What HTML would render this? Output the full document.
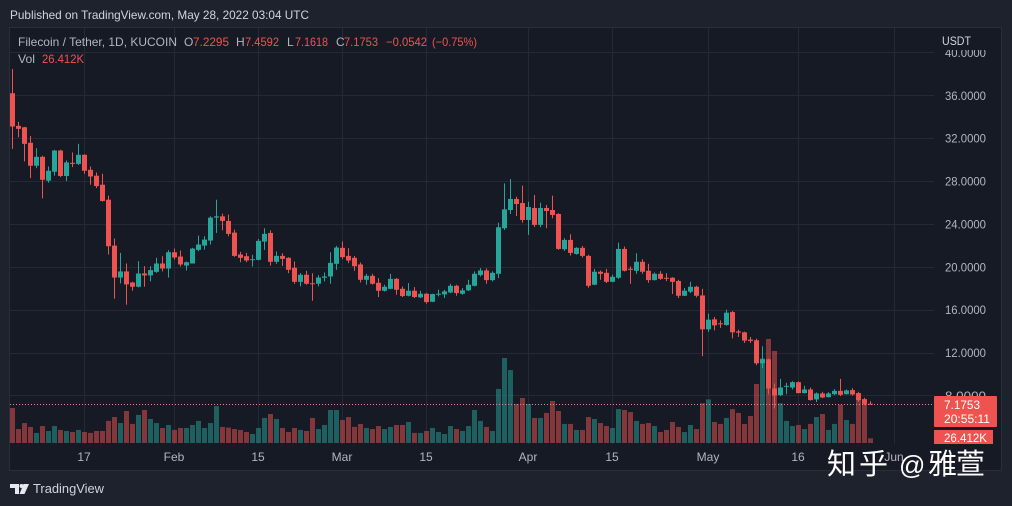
<!DOCTYPE html>
<html lang="en">
<head>
<meta charset="utf-8">
<title>Filecoin / Tether chart</title>
<style>
html,body{margin:0;padding:0;background:#1e222d;width:1012px;height:506px;overflow:hidden}
svg{display:block}
text{font-family:"Liberation Sans","Noto Sans CJK SC",sans-serif;font-size:12px}
</style>
</head>
<body>
<svg id="chart" xmlns="http://www.w3.org/2000/svg" width="1012" height="506" viewBox="0 0 1012 506">
  <rect x="0" y="0" width="1012" height="506" fill="#1e222d"/>
  <text x="10" y="19" fill="#d1d4dc" textLength="299" lengthAdjust="spacingAndGlyphs">Published on TradingView.com, May 28, 2022 03:04 UTC</text>
  <rect x="9.5" y="27.5" width="992" height="443" fill="#161a25" stroke="#2a2e39"/>
  <g id="grid"></g>
  <g id="price-axis"></g>
  <rect x="936" y="29" width="60" height="21" fill="#161a25"/>
  <text x="942" y="45" fill="#d1d4dc" textLength="29" lengthAdjust="spacingAndGlyphs">USDT</text>
  <g id="volumes"></g>
  <g id="candles"></g>
  <line id="last-price-line" x1="10" x2="934" stroke="#e08a8a" stroke-width="1" stroke-dasharray="1 2"/>
  <g>
    <text x="18" y="46" fill="#b2b5be" textLength="159" lengthAdjust="spacingAndGlyphs">Filecoin / Tether, 1D, KUCOIN</text>
    <text x="184" y="46" fill="#b2b5be">O</text>
    <text x="193" y="46" fill="#ef5350" textLength="36" lengthAdjust="spacingAndGlyphs">7.2295</text>
    <text x="236" y="46" fill="#b2b5be">H</text>
    <text x="245" y="46" fill="#ef5350" textLength="34" lengthAdjust="spacingAndGlyphs">7.4592</text>
    <text x="287" y="46" fill="#b2b5be">L</text>
    <text x="295" y="46" fill="#ef5350" textLength="33" lengthAdjust="spacingAndGlyphs">7.1618</text>
    <text x="336" y="46" fill="#b2b5be">C</text>
    <text x="344" y="46" fill="#ef5350" textLength="34" lengthAdjust="spacingAndGlyphs">7.1753</text>
    <text x="386" y="46" fill="#ef5350" textLength="41" lengthAdjust="spacingAndGlyphs">−0.0542</text>
    <text x="432" y="46" fill="#ef5350" textLength="45" lengthAdjust="spacingAndGlyphs">(−0.75%)</text>
    <text x="18" y="63" fill="#b2b5be" textLength="17" lengthAdjust="spacingAndGlyphs">Vol</text>
    <text x="42" y="63" fill="#ef5350" textLength="42" lengthAdjust="spacingAndGlyphs">26.412K</text>
  </g>
  <g id="time-axis"></g>
  <g>
    <rect x="934" y="396" width="63" height="31" rx="1" fill="#ef5350"/>
    <text x="944" y="409" fill="#ffffff" textLength="36" lengthAdjust="spacingAndGlyphs">7.1753</text>
    <text x="944" y="423" fill="#ffffff" textLength="46" lengthAdjust="spacingAndGlyphs">20:55:11</text>
  </g>
  <g>
    <rect x="934" y="430" width="59" height="14" fill="#ef5350"/>
    <text x="944" y="442" fill="#ffffff" textLength="43" lengthAdjust="spacingAndGlyphs">26.412K</text>
  </g>
  <g>
    <path d="M10 484H19V494H15V488H10ZM23.5 484H29L24.5 494H19.500Z" fill="#e6e8ee"/>
    <circle cx="21.500" cy="486" r="2" fill="#e6e8ee"/>
    <text x="33" y="493" fill="#d1d4dc" textLength="71" lengthAdjust="spacingAndGlyphs" style="font-size:13px">TradingView</text>
  </g>
  <text y="474" fill="#ffffff" style="font-family:'Liberation Sans','Noto Sans CJK SC',sans-serif;font-size:29px;font-weight:400"><tspan x="827">知</tspan><tspan x="859">乎</tspan><tspan x="899" style="font-size:26px">@</tspan><tspan x="928">雅</tspan><tspan x="956">萱</tspan></text>
</svg>
<script>
const NS = 'http://www.w3.org/2000/svg';

const opens = [36.19,33.15,33.02,31.57,29.43,30.26,28.03,28.87,30.85,28.47,
29.7,29.6,30.45,29.05,28.5,27.66,26.26,21.98,19.0,19.57,
18.54,18.14,19.38,19.2,19.53,20.31,19.84,21.36,20.96,20.12,
20.31,21.58,21.98,22.45,24.59,24.71,24.28,23.19,21.15,20.99,
20.65,20.65,22.36,23.16,20.47,21.02,20.84,19.91,18.6,19.26,
18.47,18.42,18.98,19.1,20.28,21.77,21.02,20.84,20.22,18.79,
19.16,18.51,17.77,17.95,18.88,17.95,17.3,17.77,17.15,17.49,
16.74,17.4,17.43,17.61,18.23,17.49,17.8,18.23,19.23,19.66,
18.76,19.35,23.6,25.3,26.33,25.95,24.37,25.49,23.91,25.49,
25.3,24.93,21.64,22.51,21.2,21.77,21.02,18.33,19.54,19.44,
18.6,18.98,21.67,19.82,19.63,20.47,19.63,18.76,19.35,18.98,
18.98,18.68,17.3,17.68,18.14,17.33,14.17,15.1,14.73,14.57,
15.78,13.98,13.89,13.21,13.15,11.0,11.38,8.65,8.03,8.81,
8.74,9.24,8.22,8.56,7.63,8.19,7.84,8.12,8.43,8.12,
8.5,8.22,7.66,7.2295];

const highs = [38.45,33.52,33.05,32.2,31.07,30.36,29.36,30.91,30.91,29.92,
30.67,31.47,30.5,29.36,28.8,28.68,26.64,22.64,21.3,20.31,
18.6,20.53,20.06,20.06,20.84,20.99,21.55,21.7,21.52,20.5,
21.77,22.91,22.85,24.71,26.26,24.96,24.87,23.47,21.4,21.3,
21.12,22.6,23.6,23.41,21.43,21.27,20.9,20.5,19.41,19.63,
19.4,19.22,19.47,21.36,21.95,22.36,21.74,21.02,20.4,19.35,
19.35,18.95,18.33,19.35,18.95,18.17,18.48,18.11,17.77,17.55,
17.49,17.86,17.86,18.42,18.33,18.02,18.79,19.57,19.88,19.85,
19.57,24.12,27.78,28.19,26.54,27.57,26.08,26.7,25.98,25.77,
26.64,25.0,22.67,23.04,21.83,21.95,21.12,19.8,19.66,19.8,
19.26,22.26,21.89,20.03,21.27,20.71,20.28,19.47,19.6,19.41,
19.04,18.79,18.02,18.6,18.23,17.95,15.63,15.32,15.0,16.0,
15.88,14.14,13.95,13.46,13.3,12.59,11.44,9.11,9.55,9.18,
9.33,9.3,8.9,8.74,8.28,8.34,8.31,8.59,9.55,8.56,
8.68,8.34,7.78,7.4592];

const lows = [31.0,32.09,29.83,28.28,29.2,26.39,27.84,28.5,28.37,28.0,
29.3,29.5,28.68,27.66,27.35,26.08,21.15,17.02,18.45,16.47,
17.77,18.08,18.14,18.64,19.44,19.57,19.0,20.68,20.03,19.66,
20.31,21.46,21.61,22.08,23.16,23.41,22.85,20.93,20.43,20.43,
20.03,20.6,21.58,20.12,20.28,20.09,19.41,18.42,18.17,18.33,
16.84,18.17,18.64,18.42,19.72,20.71,20.34,19.63,18.54,18.33,
18.33,17.18,17.7,17.92,17.4,17.18,17.24,17.09,17.09,16.56,
16.71,17.24,17.09,17.55,17.3,17.4,17.74,18.17,19.1,18.42,
18.64,18.95,23.44,24.93,24.74,24.12,22.98,23.72,23.69,23.6,
24.53,21.58,21.49,21.05,21.14,20.87,18.05,18.3,18.79,18.48,
18.57,18.88,19.57,18.42,19.35,19.35,18.51,18.73,18.79,18.67,
17.46,17.09,17.27,17.55,17.15,11.66,13.92,14.08,14.3,14.51,
13.33,13.46,12.9,12.9,10.82,10.54,8.09,6.79,7.94,8.12,
8.56,8.19,8.19,7.53,7.38,7.75,7.81,8.03,7.94,8.09,
8.0,7.41,7.1,7.1618];

const closes = [33.09,32.87,31.47,29.43,30.26,28.12,28.96,30.85,28.47,29.74,
29.6,30.45,28.96,28.43,27.53,26.14,21.92,19.0,19.57,18.36,
18.14,19.38,19.2,19.69,20.31,19.84,21.36,20.87,20.22,20.43,
21.7,22.08,22.54,24.59,24.71,24.28,23.07,21.02,20.84,20.59,
20.71,22.42,23.07,20.47,21.02,20.74,19.72,18.6,19.26,18.42,
18.42,19.0,19.1,20.37,21.8,20.9,20.59,20.06,18.79,19.16,
18.42,17.77,18.14,18.88,17.86,17.27,17.77,17.18,17.49,16.71,
17.46,17.49,17.71,18.23,17.55,17.8,18.33,19.35,19.66,18.76,
19.44,23.69,25.36,26.33,25.86,24.37,25.58,23.91,25.49,25.21,
24.84,21.67,22.51,21.3,21.77,21.02,18.23,19.54,19.35,18.6,
19.07,21.67,19.63,19.72,20.47,19.54,18.76,19.35,18.88,18.88,
18.6,17.3,17.77,18.14,17.3,14.17,15.07,14.54,14.64,15.72,
13.89,13.86,13.12,13.09,11.0,11.38,8.65,8.0,8.74,8.9,
9.24,8.22,8.56,7.57,8.19,7.81,8.19,8.43,8.06,8.47,
8.09,7.57,7.22,7.1753];

const volumes = [198,79,113,91,57,96,68,96,74,68,
62,74,62,57,68,68,125,147,113,181,
108,159,187,136,113,85,102,74,85,85,
102,125,85,113,209,91,87,79,74,62,
51,85,142,164,136,85,62,85,74,68,
142,79,102,187,187,130,147,91,108,85,
79,96,79,91,102,102,119,57,57,68,
85,62,51,96,79,68,96,187,125,91,
68,306,481,413,221,255,221,142,142,170,
238,181,108,108,74,74,147,136,113,96,
85,192,187,175,125,108,113,96,62,74,
119,91,62,102,79,225,247,119,108,142,
192,170,108,153,334,479,589,521,225,125,
96,102,79,108,147,164,74,108,217,130,
108,262,225,26.412];

const priceTicks = [40,36,32,28,24,20,16,12,8];
const timeLabels = ['17','Feb','15','Mar','15','Apr','15','May','16','Jun'];
const timeBarIndex = [12,27,41,55,69,86,100,116,131,147];
const lastPrice = 7.1753;

function xScale(i){ return 12.5 + 6 * i; }
function yScale(p){ return 95.3 + (36 - p) * 10.72; }
function volHeight(v){ return v / 5.66; }

const gridG = document.getElementById('grid');
const axisG = document.getElementById('price-axis');
const timeG = document.getElementById('time-axis');
const volG = document.getElementById('volumes');
const candleG = document.getElementById('candles');

priceTicks.forEach(function(t){
  const y = Math.round(yScale(t)) + 0.5;
  const line = document.createElementNS(NS, 'line');
  
  
  line.setAttribute('x1', 10);
  line.setAttribute('x2', 934);
  line.setAttribute('y1', y);
  line.setAttribute('y2', y);
  line.setAttribute('stroke', '#252933');
  gridG.appendChild(line);
  const label = document.createElementNS(NS, 'text');
  
  
  label.setAttribute('x', 945);
  label.setAttribute('y', yScale(t) + 4.5);
  label.setAttribute('fill', '#b2b5be');
  label.setAttribute('textLength', 41);
  label.setAttribute('lengthAdjust', 'spacingAndGlyphs');
  label.textContent = t.toFixed(4);
  axisG.appendChild(label);
});

timeLabels.forEach(function(t, k){
  const x = xScale(timeBarIndex[k]) - 0.5;
  const line = document.createElementNS(NS, 'line');
  
  
  line.setAttribute('x1', Math.floor(x) + 0.5);
  line.setAttribute('x2', Math.floor(x) + 0.5);
  line.setAttribute('y1', 28);
  line.setAttribute('y2', 444);
  line.setAttribute('stroke', '#252933');
  gridG.appendChild(line);
  const label = document.createElementNS(NS, 'text');
  
  
  label.setAttribute('x', x);
  label.setAttribute('y', 461);
  label.setAttribute('text-anchor', 'middle');
  label.setAttribute('fill', '#b2b5be');
  label.textContent = t;
  timeG.appendChild(label);
});

closes.forEach(function(c, i){
  const up = c >= opens[i];
  const color = up ? '#26a69a' : '#ef5350';
  const cx = Math.floor(xScale(i));

  const vh = volHeight(volumes[i]);
  const bar = document.createElementNS(NS, 'rect');
  
  
  bar.setAttribute('x', cx - 2);
  bar.setAttribute('y', 443 - vh);
  bar.setAttribute('width', 5);
  bar.setAttribute('height', vh);
  bar.setAttribute('fill', color);
  bar.setAttribute('fill-opacity', '0.5');
  volG.appendChild(bar);

  const wick = document.createElementNS(NS, 'rect');
  
  
  wick.setAttribute('x', cx);
  wick.setAttribute('y', yScale(highs[i]));
  wick.setAttribute('width', 1);
  wick.setAttribute('height', yScale(lows[i]) - yScale(highs[i]));
  wick.setAttribute('fill', color);
  candleG.appendChild(wick);

  const top = Math.max(opens[i], c);
  const bottom = Math.min(opens[i], c);
  const body = document.createElementNS(NS, 'rect');
  
  
  body.setAttribute('x', cx - 2);
  body.setAttribute('y', yScale(top));
  body.setAttribute('width', 5);
  body.setAttribute('height', Math.max(1, yScale(bottom) - yScale(top)));
  body.setAttribute('fill', color);
  candleG.appendChild(body);
});

const pl = document.getElementById('last-price-line');
pl.setAttribute('y1', Math.floor(yScale(lastPrice)) + 0.5);
pl.setAttribute('y2', Math.floor(yScale(lastPrice)) + 0.5);
</script>
</body>
</html>
